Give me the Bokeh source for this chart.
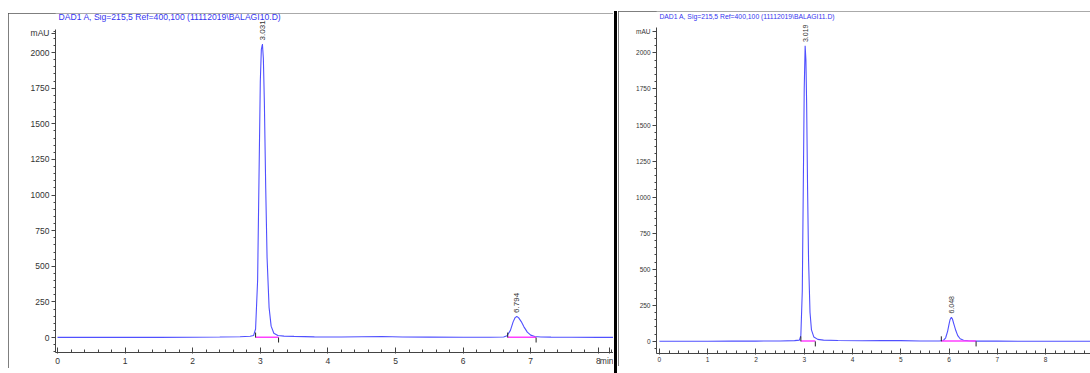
import numpy as np
from bokeh.plotting import figure
from bokeh.layouts import row, column
from bokeh.models import FixedTicker, Div, Spacer
from bokeh.core.properties import value
from bokeh.embed import file_html
from bokeh.resources import INLINE

# ---------------- data ----------------
left_header = "DAD1 A, Sig=215,5 Ref=400,100 (11112019\\BALAGI10.D)"
right_header = "DAD1 A, Sig=215,5 Ref=400,100 (11112019\\BALAGI11.D)"

left_time = [0, 0.5, 1.0, 1.5, 2.0, 2.4, 2.7, 2.85, 2.90, 2.93, 2.96, 2.98, 3.00, 3.015,
             3.031, 3.045, 3.06, 3.08, 3.10, 3.13, 3.16, 3.20, 3.26, 3.35, 3.5, 3.8, 4.2,
             4.5, 4.8, 5.1, 5.5, 6.0, 6.4, 6.6, 6.65, 6.70, 6.74, 6.77, 6.794, 6.82, 6.86,
             6.90, 6.95, 7.00, 7.06, 7.15, 7.3, 7.6, 8.0, 8.25]
left_mau = [1, 1, 1, 1, 2, 4, 6, 9, 14, 60, 400, 1100, 1800, 2020,
            2060, 1960, 1650, 1050, 560, 210, 80, 30, 14, 10, 8, 5, 4,
            6, 7, 4, 3, 2, 2, 4, 12, 50, 110, 140, 148, 140, 112,
            75, 38, 17, 7, 4, 3, 2, 1, 1]

right_time = [0, 0.5, 1.0, 1.5, 2.0, 2.5, 2.8, 2.90, 2.93, 2.96, 2.98, 3.00, 3.019, 3.035,
              3.05, 3.07, 3.09, 3.12, 3.15, 3.20, 3.28, 3.4, 3.7, 4.2, 4.6, 5.0, 5.4, 5.8,
              5.88, 5.93, 5.97, 6.00, 6.02, 6.048, 6.07, 6.10, 6.14, 6.18, 6.23, 6.30,
              6.40, 6.6, 7.0, 7.5, 8.0, 8.5, 8.95]
right_mau = [1, 1, 1, 2, 2, 3, 5, 9, 40, 350, 1050, 1750, 2050, 1950,
             1650, 1050, 560, 200, 80, 30, 14, 9, 6, 4, 6, 5, 3, 3,
             6, 25, 70, 120, 150, 168, 155, 120, 75, 40, 18, 8,
             4, 2, 2, 1, 1, 1, 1]

left_peak_rt = [3.031, 6.794]
left_peak_height = [2060, 148]
left_peak_labels = ["3.031", "6.794"]
left_base_start = [2.93, 6.66]
left_base_end = [3.27, 7.08]

right_peak_rt = [3.019, 6.048]
right_peak_height = [2050, 168]
right_peak_labels = ["3.019", "6.048"]
right_base_start = [2.93, 5.84]
right_base_end = [3.23, 6.56]

x_ticks = [0, 1, 2, 3, 4, 5, 6, 7, 8]
y_ticks = [0, 250, 500, 750, 1000, 1250, 1500, 1750, 2000]
y_unit = "mAU"
x_unit = "min"

FONT = "Liberation Sans"
LINE_BLUE = "#5050ff"
HEAD_BLUE = "#3535f0"
PINK = "#ff40ff"
AXIS = "#444444"
LABEL = "#333333"


def make_panel(width, height, min_left, min_bottom, x_range, y_range, times, mau, header,
               header_pos, rts, heights, labels, bstart, bend, tick_font, head_font,
               peak_font, unit_tick, axis_top, min_tick=None):
    p = figure(width=width, height=height, x_range=x_range, y_range=y_range,
               output_backend="svg", toolbar_location=None,
               min_border_left=min_left, min_border_right=0, min_border_top=0,
               min_border_bottom=min_bottom)
    p.outline_line_color = None
    p.xgrid.visible = False
    p.ygrid.visible = False
    p.background_fill_color = "white"
    p.border_fill_color = "white"
    p.styles = {"outline": "1px solid #555555", "outline-offset": "-1px"}

    # curve
    p.line(times, mau, line_color=LINE_BLUE, line_width=1.1)
    # integration baselines
    base_y = [2] * len(bstart)
    p.segment(x0=bstart, y0=base_y, x1=bend, y1=base_y, line_color=PINK, line_width=1.5)
    # start / end markers
    p.segment(x0=bstart, y0=[0] * len(bstart), x1=bstart, y1=[35] * len(bstart),
              line_color="#222222", line_width=1)
    p.segment(x0=bend, y0=[0] * len(bend), x1=bend, y1=[-35] * len(bend),
              line_color="#222222", line_width=1)
    # peak labels
    p.text(x=rts, y=[h + 25 for h in heights], text=labels, angle=np.pi / 2,
           text_align="left", text_baseline="middle", text_color=LABEL,
           text_font=value(FONT), text_font_size=peak_font)
    # header
    p.text(x=[header_pos[0]], y=[header_pos[1]], text=[header], text_align="left",
           text_baseline="middle", text_color=HEAD_BLUE, text_font=value(FONT),
           text_font_size=head_font)

    # x axis
    xt = list(x_ticks)
    xo = {}
    if min_tick is not None:
        xt = xt + [min_tick]
        xo = {min_tick: x_unit}
    p.xaxis.ticker = FixedTicker(ticks=xt, minor_ticks=list(np.round(np.arange(0, 9.01, 0.2), 2)))
    p.xaxis.major_label_overrides = xo
    p.xaxis.major_tick_in = 5
    p.xaxis.major_tick_out = 1
    p.xaxis.minor_tick_in = 3
    p.xaxis.minor_tick_out = 0
    p.xaxis.major_label_standoff = 2
    # y axis
    p.yaxis.ticker = FixedTicker(ticks=y_ticks + [unit_tick],
                                 minor_ticks=list(np.arange(-100, 2200, 50)))
    p.yaxis.major_label_overrides = {unit_tick: y_unit}
    p.yaxis.major_tick_in = 0
    p.yaxis.major_tick_out = 4
    p.yaxis.minor_tick_in = 0
    p.yaxis.minor_tick_out = 2
    p.yaxis.major_label_standoff = 2
    p.yaxis.bounds = (y_range[0], axis_top)
    for ax in (p.xaxis, p.yaxis):
        ax.axis_line_color = AXIS
        ax.major_tick_line_color = AXIS
        ax.minor_tick_line_color = AXIS
        ax.major_label_text_color = LABEL
        ax.major_label_text_font = FONT
        ax.major_label_text_font_size = tick_font
    p.yaxis.major_label_orientation = "horizontal"
    return p


p1 = make_panel(605, 355, 47, 16, (-0.03, 8.225), (-105, 2274), left_time, left_mau,
                left_header, (0.015, 2246), left_peak_rt, left_peak_height,
                left_peak_labels, left_base_start, left_base_end,
                "8.5px", "8.6px", "8px", 2135, 2165, min_tick=8.16)

p2 = make_panel(472, 355, 38, 13, (-0.06, 8.93), (-84, 2287), right_time, right_mau,
                right_header, (0.0, 2252), right_peak_rt, right_peak_height,
                right_peak_labels, right_base_start, right_base_end,
                "6.5px", "6.8px", "7px", 2147, 2175)

sep = Div(width=5, height=362, margin=0, text="",
          styles={"background": "linear-gradient(to right, white 0px, white 1px, black 1px, black 4px, white 4px)"})

layout = column(
    Spacer(height=11, width=10, margin=0),
    row(Spacer(width=8, height=10, margin=0),
        column(Spacer(height=2, width=10, margin=0), p1, spacing=0),
        sep, p2, spacing=0),
    spacing=0)

open("out.html", "w").write(file_html(layout, INLINE))
